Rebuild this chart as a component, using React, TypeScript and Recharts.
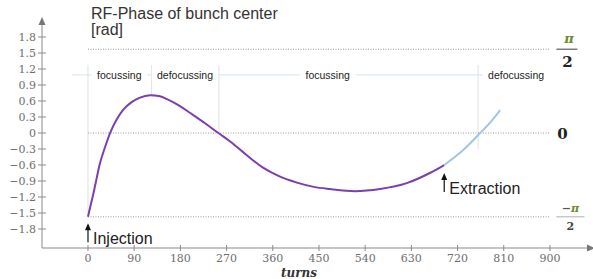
import { ComposedChart, Line, XAxis, YAxis, ReferenceLine, ReferenceDot } from "recharts";

const HALF_PI = Math.PI / 2;

// RF phase of the bunch centre (turns / rad)
const PHASE_TURNS = [0, 4, 9, 14, 23, 32, 43, 55, 68, 85, 100, 121, 140, 155, 180, 200, 230, 254, 277, 300, 320, 341, 370, 407, 440, 471, 520, 569, 621, 666, 694];
const PHASE_RAD = [-1.571, -1.4, -1.2, -0.98, -0.58, -0.3, 0, 0.24, 0.43, 0.58, 0.66, 0.71, 0.69, 0.63, 0.5, 0.37, 0.17, 0, -0.16, -0.34, -0.5, -0.65, -0.8, -0.93, -1.01, -1.05, -1.09, -1.05, -0.94, -0.75, -0.6];

// after extraction (light blue part)
const AFTER_TURNS = [694, 731, 764, 783, 803];
const AFTER_RAD = [-0.6, -0.32, 0, 0.19, 0.43];

const X_TICKS = [0, 90, 180, 270, 360, 450, 540, 630, 720, 810, 900];
const Y_TICKS = [-1.8, -1.5, -1.2, -0.9, -0.6, -0.3, 0, 0.3, 0.6, 0.9, 1.2, 1.5, 1.8];

// focussing / defocussing regions
const REGION_LABELS = ["focussing", "defocussing", "focussing", "defocussing"];
const REGION_CENTERS = [61, 189, 467, 834];
const REGION_BOUNDS = [0, 124, 255, 760];
const BOUND_ENDS = [-1.571, 0.71, 0, -0.3];
const REGION_ROW = 1.09;
const BOUND_TOP = 1.275;

const INJECTION = { turn: 0, rad: -1.69 };
const EXTRACTION = { turn: 694, rad: -0.75 };

const phaseData = PHASE_TURNS.map((t, i) => ({ turn: t, rad: PHASE_RAD[i] }));
const afterData = AFTER_TURNS.map((t, i) => ({ turn: t, rad: AFTER_RAD[i] }));

const SERIF = "'DejaVu Serif', serif";
const SANS = "'Liberation Sans', Arial, sans-serif";
const AXIS = "#8a8a8a";
const TICK = "#6e6e6e";
const PURPLE = "#7b3fae";
const LIGHT_BLUE = "#a3c4e8";
const PI_GREEN = "#6b8a2e";

const fmt = (v: number) => (v === 0 ? "0" : v.toFixed(1).replace("-", "\u2212"));

const YTick = ({ x, y, payload }: any) => (
    <g>
        <line x1={x - 4} x2={x + 4} y1={y} y2={y} stroke={AXIS} />
        <text x={x - 6} y={y} dy="0.35em" textAnchor="end" fontFamily={SERIF} fontSize={11} fill={TICK}>
            {fmt(payload.value)}
        </text>
    </g>
);

const XTick = ({ x, y, payload }: any) => (
    <g>
        <line x1={x} x2={x} y1={y - 3} y2={y + 3} stroke={AXIS} />
        <text x={x} y={y + 10} dy="0.35em" textAnchor="middle" fontFamily={SERIF} fontSize={11} fill={TICK}>
            {payload.value}
        </text>
    </g>
);

const arrowUp = (text: string) => (p: any) => (
    <g>
        <path d={`M${p.cx},${p.cy} L${p.cx - 3},${p.cy + 7} L${p.cx + 3},${p.cy + 7} Z`} fill="#111" />
        <line x1={p.cx} x2={p.cx} y1={p.cy + 5} y2={p.cy + 19} stroke="#111" strokeWidth={1.2} />
        <text x={p.cx + 5} y={p.cy + 15} dy="0.35em" fontFamily={SANS} fontSize={16} fill="#222">
            {text}
        </text>
    </g>
);

const regionLabel = (text: string) => (p: any) => {
    const w = text.length * 5.3 + 8;
    return (
        <g>
            <rect x={p.cx - w / 2} y={p.cy - 7} width={w} height={14} fill="#fff" />
            <text x={p.cx} y={p.cy} dy="0.35em" textAnchor="middle" fontFamily={SANS} fontSize={10.5} fill="#222">
                {text}
            </text>
        </g>
    );
};

const piHalf = (p: any) => (
    <g fontFamily={SERIF} fontWeight="bold" textAnchor="middle">
        <text x={p.cx + 1.5} y={p.cy - 11} dy="0.35em" fontSize={13} fill={PI_GREEN} fontStyle="italic">π</text>
        <line x1={p.cx - 11} x2={p.cx + 10} y1={p.cy} y2={p.cy} stroke="#666" strokeWidth={1.3} />
        <text x={p.cx} y={p.cy + 13} dy="0.35em" fontSize={15} fill="#222">2</text>
    </g>
);

const zeroLabel = (p: any) => (
    <text x={p.cx - 5} y={p.cy + 1} dy="0.35em" textAnchor="middle" fontFamily={SERIF} fontWeight="bold" fontSize={15} fill="#222">
        0
    </text>
);

const minusPiHalf = (p: any) => (
    <g fontFamily={SERIF} fontWeight="bold" textAnchor="middle">
        <text x={p.cx + 3} y={p.cy - 9} dy="0.35em" fontSize={11}>
            <tspan fill="#555">{"\u2212"}</tspan>
            <tspan fill={PI_GREEN} fontStyle="italic">π</tspan>
        </text>
        <line x1={p.cx - 11} x2={p.cx + 17} y1={p.cy} y2={p.cy} stroke="#bbb" strokeWidth={1.2} />
        <text x={p.cx + 3} y={p.cy + 9} dy="0.35em" fontSize={11} fill="#444">2</text>
    </g>
);

const yArrow = (p: any) => (
    <path d={`M${p.cx},${p.cy - 3} L${p.cx - 3.5},${p.cy + 5} L${p.cx + 3.5},${p.cy + 5} Z`} fill="#777" />
);
const xArrow = (p: any) => (
    <path d={`M${p.cx + 5},${p.cy} L${p.cx - 3},${p.cy - 3.5} L${p.cx - 3},${p.cy + 3.5} Z`} fill="#777" />
);

const X_DOMAIN = [-89.6, 978];
const Y_DOMAIN = [-2.156, 2.119];

export default function App() {
    return (
        <div style={{ position: "absolute", left: 0, top: 0, width: 593, height: 279, background: "#fff" }}>
            <div
                style={{
                    position: "absolute",
                    left: 91,
                    top: 6,
                    fontFamily: SANS,
                    fontSize: 16,
                    lineHeight: "16px",
                    color: "#333",
                    zIndex: 2,
                }}
            >
                RF-Phase of bunch center
                <br />
                [rad]
            </div>
            <ComposedChart width={593} height={279} margin={{ top: 20, right: 3, bottom: 0, left: 0 }}>
                <XAxis
                    type="number"
                    dataKey="turn"
                    domain={X_DOMAIN}
                    allowDataOverflow
                    ticks={X_TICKS}
                    interval={0}
                    height={31}
                    tickSize={0}
                    tickMargin={0}
                    tickLine={false}
                    tick={XTick}
                    axisLine={{ stroke: AXIS }}
                    label={{
                        value: "turns",
                        position: "insideBottom",
                        offset: 2,
                        dx: -17,
                        style: { fontFamily: SERIF, fontStyle: "italic", fontWeight: "bold", fontSize: 12, fill: "#333" },
                    }}
                />
                <YAxis
                    type="number"
                    domain={Y_DOMAIN}
                    allowDataOverflow
                    ticks={Y_TICKS}
                    interval={0}
                    width={42}
                    tickSize={0}
                    tickMargin={0}
                    tickLine={false}
                    tick={YTick}
                    axisLine={{ stroke: AXIS }}
                />

                {/* guide lines */}
                <ReferenceLine
                    segment={[{ x: X_DOMAIN[0] + 58, y: REGION_ROW }, { x: 777, y: REGION_ROW }]}
                    stroke="#d3e5f3"
                />
                {REGION_BOUNDS.map((b, i) => (
                    <ReferenceLine
                        key={"b" + i}
                        segment={[{ x: b, y: BOUND_TOP }, { x: b, y: BOUND_ENDS[i] }]}
                        stroke="#e0e0e0"
                    />
                ))}
                {[HALF_PI, 0, -HALF_PI].map((v) => (
                    <ReferenceLine
                        key={"h" + v}
                        segment={[{ x: 0, y: v }, { x: 900, y: v }]}
                        stroke="#9a9a9a"
                        strokeDasharray="1 1.5"
                    />
                ))}

                <Line data={phaseData} dataKey="rad" type="monotone" stroke={PURPLE} strokeWidth={2} dot={false} isAnimationActive={false} />
                <Line data={afterData} dataKey="rad" type="monotone" stroke={LIGHT_BLUE} strokeWidth={2} dot={false} isAnimationActive={false} />

                {REGION_LABELS.map((l, i) => (
                    <ReferenceDot key={"r" + i} x={REGION_CENTERS[i]} y={REGION_ROW} r={0} shape={regionLabel(l)} ifOverflow="visible" />
                ))}

                <ReferenceDot x={INJECTION.turn} y={INJECTION.rad} r={0} shape={arrowUp("Injection")} ifOverflow="visible" />
                <ReferenceDot x={EXTRACTION.turn} y={EXTRACTION.rad} r={0} shape={arrowUp("Extraction")} ifOverflow="visible" />

                <ReferenceDot x={934} y={HALF_PI} r={0} shape={piHalf} ifOverflow="visible" />
                <ReferenceDot x={934} y={0} r={0} shape={zeroLabel} ifOverflow="visible" />
                <ReferenceDot x={934} y={-HALF_PI} r={0} shape={minusPiHalf} ifOverflow="visible" />

                <ReferenceDot x={X_DOMAIN[0]} y={Y_DOMAIN[1]} r={0} shape={yArrow} ifOverflow="visible" />
                <ReferenceDot x={X_DOMAIN[1]} y={Y_DOMAIN[0]} r={0} shape={xArrow} ifOverflow="visible" />
            </ComposedChart>
        </div>
    );
}
